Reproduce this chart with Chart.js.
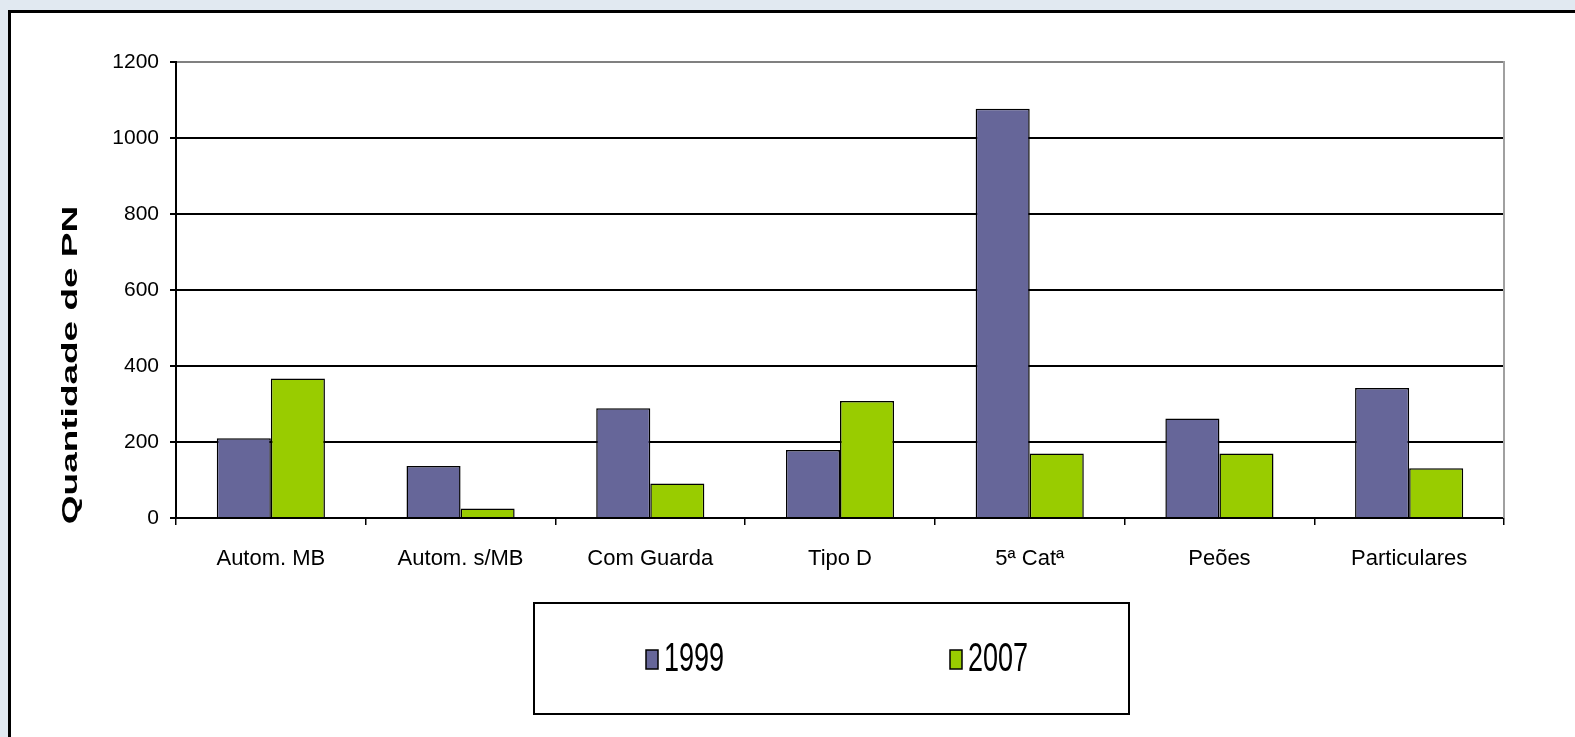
<!DOCTYPE html>
<html>
<head>
<meta charset="utf-8">
<script src="https://cdn.jsdelivr.net/npm/chart.js@4"></script>
<style>
  html, body { margin:0; padding:0; width:1575px; height:737px; overflow:hidden; background:#e1e9f1; }
  #panel { position:absolute; left:8px; top:10px; width:1620px; height:800px; border:3px solid #000; background:#fff; }
  #c { position:absolute; left:0; top:0; }
</style>
</head>
<body>
<div id="panel"></div>
<canvas id="c" width="1575" height="737"></canvas>
<script>
const categories = ['Autom. MB', 'Autom. s/MB', 'Com Guarda', 'Tipo D', '5ª Catª', 'Peões', 'Particulares'];
const series1999 = [210, 137, 289, 179, 1077, 262, 342];
const series2007 = [367, 25, 91, 308, 170, 170, 131];
const seriesNames = ['1999', '2007'];
const yTicks = [0, 200, 400, 600, 800, 1000, 1200];
const yTitle = 'Quantidade de PN';

const FONT = '"Liberation Sans", Arial, sans-serif';
const COL1999 = '#666699';
const COL2007 = '#99cc00';

const extras = {
  id: 'extras',
  afterDraw(chart) {
    const ctx = chart.ctx;
    const area = chart.chartArea;
    // right border of plot area
    ctx.save();
    ctx.strokeStyle = '#a0a0a0';
    ctx.lineWidth = 2;
    ctx.beginPath();
    ctx.moveTo(area.right, area.top - 1);
    ctx.lineTo(area.right, area.bottom);
    ctx.stroke();
    ctx.restore();

    // y-axis title
    ctx.save();
    ctx.translate(71, 365);
    ctx.rotate(-Math.PI / 2);
    ctx.scale(1.68, 1);
    ctx.font = 'bold 22px ' + FONT;
    ctx.fillStyle = '#000';
    ctx.textAlign = 'center';
    ctx.textBaseline = 'middle';
    ctx.fillText(yTitle, 0, 0);
    ctx.restore();

    // legend box
    ctx.save();
    ctx.strokeStyle = '#000';
    ctx.lineWidth = 2;
    ctx.fillStyle = '#fff';
    ctx.fillRect(534, 603, 595, 111);
    ctx.strokeRect(534, 603, 595, 111);
    const items = [
      { x: 646, color: chart.data.datasets[0].backgroundColor, label: chart.data.datasets[0].label },
      { x: 950, color: chart.data.datasets[1].backgroundColor, label: chart.data.datasets[1].label }
    ];
    items.forEach(it => {
      ctx.fillStyle = it.color;
      ctx.fillRect(it.x, 650, 12, 19);
      ctx.lineWidth = 1.5;
      ctx.strokeStyle = '#000';
      ctx.strokeRect(it.x, 650, 12, 19);
      ctx.save();
      ctx.translate(it.x + 18, 660);
      ctx.scale(1, 1.5);
      ctx.font = '27px ' + FONT;
      ctx.fillStyle = '#000';
      ctx.textAlign = 'left';
      ctx.textBaseline = 'middle';
      ctx.fillText(it.label, 0, 0);
      ctx.restore();
    });
    ctx.restore();
  }
};

new Chart(document.getElementById('c'), {
  type: 'bar',
  data: {
    labels: categories,
    datasets: [
      { label: seriesNames[0], data: series1999, backgroundColor: COL1999, borderColor: '#000', borderWidth: 1.5, borderSkipped: 'start' },
      { label: seriesNames[1], data: series2007, backgroundColor: COL2007, borderColor: '#000', borderWidth: 1.5, borderSkipped: 'start' }
    ]
  },
  options: {
    responsive: false,
    animation: false,
    events: [],
    layout: { padding: { left: 0, top: 62, right: 71, bottom: 0 } },
    datasets: { bar: { categoryPercentage: 0.57, barPercentage: 1.0 } },
    plugins: { legend: { display: false }, tooltip: { enabled: false }, title: { display: false } },
    scales: {
      x: {
        afterFit(scale) { scale.height = 737 - 518; },
        grid: { display: true, drawOnChartArea: false, drawTicks: true, tickLength: 7, color: '#000', lineWidth: 1.5, offset: true },
        border: { display: true, color: '#000', width: 2 },
        ticks: { color: '#000', font: { family: FONT, size: 22 }, padding: 21, maxRotation: 0, autoSkip: false }
      },
      y: {
        min: 0, max: 1200,
        afterFit(scale) { scale.width = 176; },
        afterBuildTicks(scale) { scale.ticks = yTicks.map(v => ({ value: v })); },
        grid: {
          color: ctx => (ctx.tick && ctx.tick.value === 1200) ? '#808080' : '#000',
          tickColor: '#000',
          lineWidth: 2,
          tickLength: 6
        },
        border: { display: true, color: '#000', width: 2 },
        ticks: { color: '#000', font: { family: FONT, size: 21 }, padding: 11, callback: v => String(v) }
      }
    }
  },
  plugins: [extras]
});
</script>
</body>
</html>
